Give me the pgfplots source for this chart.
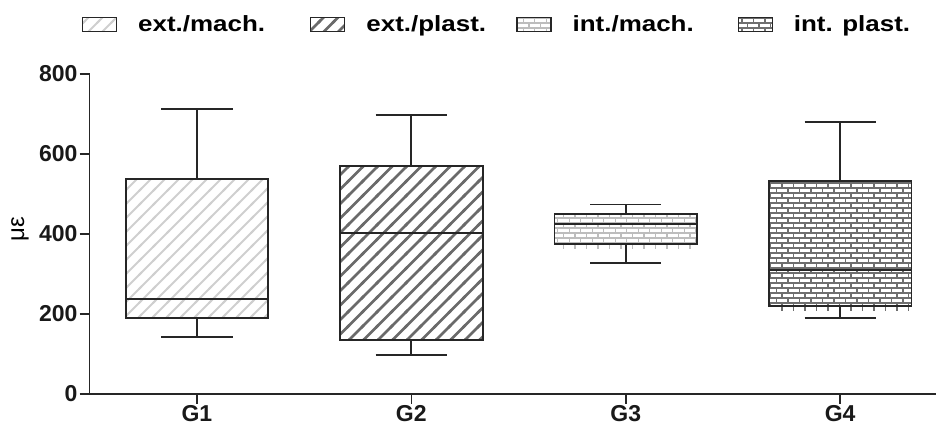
\documentclass[border=0pt]{standalone}
\usepackage{fontspec}
\setmainfont{Liberation Sans}
\newfontfamily\legfont[FakeStretch=1.18]{Liberation Sans}
\usepackage{pgfplots}
\pgfplotsset{compat=1.18}
\usetikzlibrary{patterns}

\definecolor{stripeAcol}{HTML}{CFCFCF}
\definecolor{stripeBcol}{HTML}{6A6A6A}
\definecolor{brickAcol}{HTML}{BDBDBD}
\definecolor{brickBcol}{HTML}{6E6E6E}
\definecolor{ink}{HTML}{262626}

\pgfdeclarepatterninherentlycolored{stripeA}{\pgfpoint{-2pt}{-2pt}}{\pgfpoint{16pt}{16pt}}{\pgfpoint{14pt}{14pt}}{%
  \pgfsetstrokecolor{stripeAcol}\pgfsetlinewidth{1.8pt}%
  \pgfpathmoveto{\pgfpoint{-2pt}{-2pt}}\pgfpathlineto{\pgfpoint{16pt}{16pt}}\pgfusepath{stroke}}
\pgfdeclarepatterninherentlycolored{stripeB}{\pgfpoint{-2pt}{-2pt}}{\pgfpoint{16.5pt}{16.5pt}}{\pgfpoint{14.5pt}{14.5pt}}{%
  \pgfsetstrokecolor{stripeBcol}\pgfsetlinewidth{2.6pt}%
  \pgfpathmoveto{\pgfpoint{-2pt}{-2pt}}\pgfpathlineto{\pgfpoint{16.5pt}{16.5pt}}\pgfusepath{stroke}}
\pgfdeclarepatterninherentlycolored{brickA}{\pgfpoint{-1pt}{-1pt}}{\pgfpoint{12.5pt}{11pt}}{\pgfpoint{11.5pt}{10pt}}{%
  \pgfsetstrokecolor{brickAcol}\pgfsetlinewidth{1.4pt}%
  \pgfpathmoveto{\pgfpoint{-1pt}{0pt}}\pgfpathlineto{\pgfpoint{12.5pt}{0pt}}%
  \pgfpathmoveto{\pgfpoint{-1pt}{5pt}}\pgfpathlineto{\pgfpoint{12.5pt}{5pt}}%
  \pgfpathmoveto{\pgfpoint{0pt}{0pt}}\pgfpathlineto{\pgfpoint{0pt}{5pt}}%
  \pgfpathmoveto{\pgfpoint{5.75pt}{5pt}}\pgfpathlineto{\pgfpoint{5.75pt}{10pt}}%
  \pgfusepath{stroke}}
\pgfdeclarepatterninherentlycolored{brickB}{\pgfpoint{-1pt}{-1pt}}{\pgfpoint{12.5pt}{11pt}}{\pgfpoint{11.5pt}{10pt}}{%
  \pgfsetstrokecolor{brickBcol}\pgfsetlinewidth{1.5pt}%
  \pgfpathmoveto{\pgfpoint{-1pt}{0pt}}\pgfpathlineto{\pgfpoint{12.5pt}{0pt}}%
  \pgfpathmoveto{\pgfpoint{-1pt}{5pt}}\pgfpathlineto{\pgfpoint{12.5pt}{5pt}}%
  \pgfpathmoveto{\pgfpoint{0pt}{0pt}}\pgfpathlineto{\pgfpoint{0pt}{5pt}}%
  \pgfpathmoveto{\pgfpoint{5.75pt}{5pt}}\pgfpathlineto{\pgfpoint{5.75pt}{10pt}}%
  \pgfusepath{stroke}}
\pgfdeclarepatterninherentlycolored{vtickA}{\pgfpoint{-1pt}{-1pt}}{\pgfpoint{12.5pt}{11pt}}{\pgfpoint{11.5pt}{10pt}}{%
  \pgfsetstrokecolor{brickAcol}\pgfsetlinewidth{1.4pt}%
  \pgfpathmoveto{\pgfpoint{0pt}{-1pt}}\pgfpathlineto{\pgfpoint{0pt}{11pt}}%
  \pgfusepath{stroke}}
\pgfdeclarepatterninherentlycolored{vtickB}{\pgfpoint{-1pt}{-1pt}}{\pgfpoint{12.5pt}{11pt}}{\pgfpoint{11.5pt}{10pt}}{%
  \pgfsetstrokecolor{brickBcol}\pgfsetlinewidth{1.5pt}%
  \pgfpathmoveto{\pgfpoint{0pt}{-1pt}}\pgfpathlineto{\pgfpoint{0pt}{11pt}}%
  \pgfusepath{stroke}}

\pgfplotsset{
  seg/.style={draw=ink, line width=1.9pt, forget plot, mark=none},
  boxs/.style={draw=ink, line width=1.9pt, forget plot, mark=none, pattern=#1},
  hang/.style={draw=none, forget plot, mark=none, pattern=#1},
}

\begin{document}
\begin{tikzpicture}
\begin{axis}[
  scale only axis,
  width=846.3pt, height=320pt,
  xmin=-0.5, xmax=3.447,
  ymin=0, ymax=800,
  axis lines=left,
  axis line style={-, line width=1.6pt, color=ink},
  xtick={0,1,2,3},
  xticklabels={G1,G2,G3,G4},
  ytick={0,200,400,600,800},
  tick align=outside,
  major tick length=10pt,
  tick style={line width=1.6pt, color=ink},
  /pgf/number format/assume math mode=true,
  tick label style={font=\fontsize{23}{27}\selectfont\bfseries, color=black!90},
  yticklabel style={inner sep=2pt},
  xticklabel style={inner sep=2pt},
  legend columns=4,
  legend style={draw=none, fill=none, inner sep=0pt, outer sep=0pt,
    column sep=0pt,
    /tikz/every odd column/.append style={column sep=21pt},
    font=\legfont\bfseries\fontsize{22}{26}\selectfont,
    nodes={inner sep=0pt},
    at={(rel axis cs:0,1)}, anchor=north west,
    xshift=-7.7pt, yshift=57.7pt},
  legend cell align=left,
]
\addlegendimage{legend image code/.code={\draw[pattern=stripeA, draw=ink, line width=1.2pt] (0pt,-7pt) rectangle (34pt,7pt);}}
\addlegendentry{\makebox[172pt][l]{ext./mach.}}
\addlegendimage{legend image code/.code={\draw[pattern=stripeB, draw=ink, line width=1.2pt] (0pt,-7pt) rectangle (34pt,7pt);}}
\addlegendentry{\makebox[150pt][l]{ext./plast.}}
\addlegendimage{legend image code/.code={\draw[pattern=brickA, draw=ink, line width=1.2pt] (0pt,-7pt) rectangle (34pt,7pt);}}
\addlegendentry{\makebox[165pt][l]{int./mach.}}
\addlegendimage{legend image code/.code={\draw[pattern=brickB, draw=ink, line width=1.2pt] (0pt,-7pt) rectangle (34pt,7pt);}}
\addlegendentry{int. plast.}

% G1: lw=141, q1=188.5, med=237, q3=537.5, uw=711
\addplot[seg] coordinates {(0,537.5) (0,711)};
\addplot[seg] coordinates {(-0.16625,711) (0.16625,711)};
\addplot[seg] coordinates {(0,188.5) (0,141)};
\addplot[seg] coordinates {(-0.16625,141) (0.16625,141)};
\addplot[boxs=stripeA] coordinates {(-0.3325,188.5) (0.3325,188.5) (0.3325,537.5) (-0.3325,537.5)} -- cycle;
\addplot[seg] coordinates {(-0.3325,237) (0.3325,237)};

% G2: lw=96, q1=133.5, med=402.5, q3=570, uw=697
\addplot[seg] coordinates {(1,570) (1,697)};
\addplot[seg] coordinates {(0.83375,697) (1.16625,697)};
\addplot[seg] coordinates {(1,133.5) (1,96)};
\addplot[seg] coordinates {(0.83375,96) (1.16625,96)};
\addplot[boxs=stripeB] coordinates {(0.6675,133.5) (1.3325,133.5) (1.3325,570) (0.6675,570)} -- cycle;
\addplot[seg] coordinates {(0.6675,402.5) (1.3325,402.5)};

% G3: lw=327.5, q1=373.5, med=425, q3=450, uw=473
\addplot[hang=vtickA] coordinates {(1.68,373.5) (2.325,373.5) (2.325,362) (1.68,362)} -- cycle;
\addplot[seg] coordinates {(2,450) (2,473)};
\addplot[seg] coordinates {(1.83375,473) (2.16625,473)};
\addplot[seg] coordinates {(2,373.5) (2,327.5)};
\addplot[seg] coordinates {(1.83375,327.5) (2.16625,327.5)};
\addplot[boxs=brickA] coordinates {(1.6675,373.5) (2.3325,373.5) (2.3325,450) (1.6675,450)} -- cycle;
\addplot[seg] coordinates {(1.6675,425) (2.3325,425)};

% G4: lw=188.5, q1=220, med=308.5, q3=532.5, uw=679
\addplot[hang=vtickB] coordinates {(2.68,220) (3.325,220) (3.325,207) (2.68,207)} -- cycle;
\addplot[seg] coordinates {(3,532.5) (3,679)};
\addplot[seg] coordinates {(2.83375,679) (3.16625,679)};
\addplot[seg] coordinates {(3,220) (3,188.5)};
\addplot[seg] coordinates {(2.83375,188.5) (3.16625,188.5)};
\addplot[boxs=brickB] coordinates {(2.6675,220) (3.3325,220) (3.3325,532.5) (2.6675,532.5)} -- cycle;
\addplot[seg] coordinates {(2.6675,308.5) (3.3325,308.5)};

\coordinate (axsw) at (rel axis cs:0,0);
\coordinate (axml) at (rel axis cs:0,0.5);
\end{axis}
\node[rotate=90, anchor=center, font=\fontsize{24}{28}\selectfont] at ([xshift=-69.7pt, yshift=4.7pt]axml) {με};
\pgfresetboundingbox
\path[use as bounding box] ([xshift=-89.7pt, yshift=-34.3pt]axsw) rectangle ++(936pt,428pt);
\end{tikzpicture}
\end{document}
